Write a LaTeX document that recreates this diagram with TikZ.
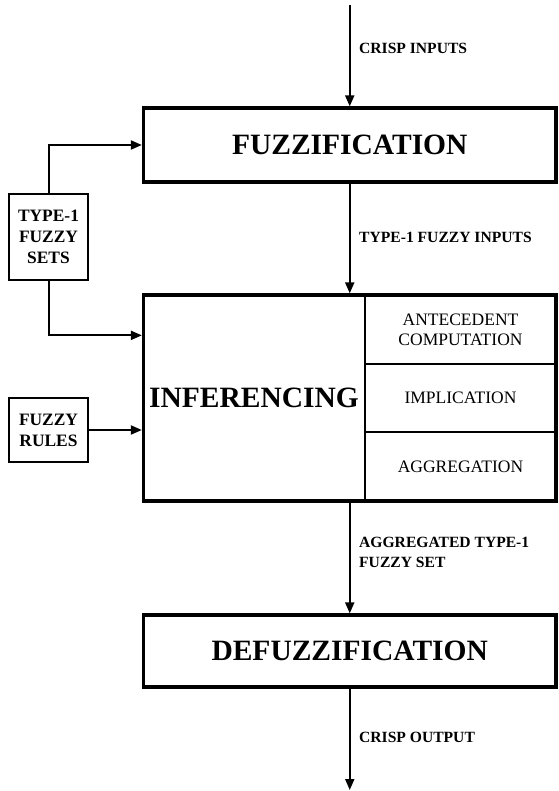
\documentclass[tikz,border=0pt]{standalone}
\usepackage{fontspec}
\setmainfont{Liberation Serif}
\usetikzlibrary{positioning,calc,arrows.meta}

\begin{document}
\begin{tikzpicture}[
		x=1pt,y=-1pt,
		>={Triangle[length=11pt,width=9pt]},
		line cap=butt,line join=miter
		]
		% ---- parameters (picture measured top-down)
		\def\xMid{349.75}
		\def\boxW{412.5}
		\def\xCell{460.5}
		\def\cellW{191}
		\def\cellH{68.67}
		\def\xLbl{359}
		
		\tikzset{
			bigbox/.style={draw, line width=3.3pt, inner sep=0pt, minimum width=\boxW pt,
				font=\fontsize{29.5}{35}\selectfont\bfseries},
			sidebox/.style={draw, line width=2pt, inner sep=0pt, minimum width=79pt,
				align=center, font=\fontsize{17.4}{21}\selectfont\bfseries},
			stagecell/.style={draw, line width=2pt, inner sep=0pt, minimum width=\cellW pt,
				minimum height=\cellH pt, align=center, font=\fontsize{17.5}{20}\selectfont},
			edgelbl/.style={anchor=west, inner sep=0pt, align=left,
				font=\fontsize{15.6}{20}\selectfont\bfseries},
			flow/.style={->, line width=2pt}
		}
		
		\useasboundingbox (0,0) rectangle (558,791);
		
		% ---- main blocks
		\node[bigbox, minimum height=74pt] (fuzz) at (\xMid,145) {FUZZIFICATION};
		
		% inferencing: three stage cells on the right, thick frame on top
		\node[stagecell] (ante) at (\xCell,329.33) {ANTECEDENT\\COMPUTATION};
		\node[stagecell] (impl) at (\xCell,398) {IMPLICATION};
		\node[stagecell] (aggr) at (\xCell,466.67) {AGGREGATION};
		\node[bigbox, minimum height=206pt] (infer) at (\xMid,398) {};
		\node[font=\fontsize{29.5}{35}\selectfont\bfseries] (inflbl) at (254,398) {INFERENCING};
		
		\node[bigbox, minimum height=72pt] (defuzz) at (\xMid,651) {DEFUZZIFICATION};
		
		% ---- side blocks
		\node[sidebox, minimum height=86pt] (sets) at (48.5,237) {TYPE-1\\FUZZY\\SETS};
		\node[sidebox, minimum height=64pt] (rules) at (48.5,430) {FUZZY\\RULES};
		
		% ---- free ends
		\coordinate (cin) at (\xMid,5);
		\coordinate (cout) at (\xMid,790);
		
		% ---- flow
		\draw[flow] (cin) -- (fuzz.north);
		\draw[flow] (fuzz.south) -- (infer.north);
		\draw[flow] (infer.south) -- (defuzz.north);
		\draw[flow] (defuzz.south) -- (cout);
		
		\draw[flow] (sets.north) |- (fuzz.west);
		\draw[flow] (sets.south) |- ([yshift=-42pt]infer.north west);
		\draw[flow] (rules.east) -- (rules.east -| infer.west);
		
		% ---- edge labels
		\node[edgelbl] (lblin) at (\xLbl,48.5) {CRISP INPUTS};
		\node[edgelbl] (lblfz) at (\xLbl,237) {TYPE-1 FUZZY INPUTS};
		\node[edgelbl] (lblag) at (\xLbl,552) {AGGREGATED TYPE-1\\FUZZY SET};
		\node[edgelbl] (lblout) at (\xLbl,737.5) {CRISP OUTPUT};
		
	\end{tikzpicture}
\end{document}
